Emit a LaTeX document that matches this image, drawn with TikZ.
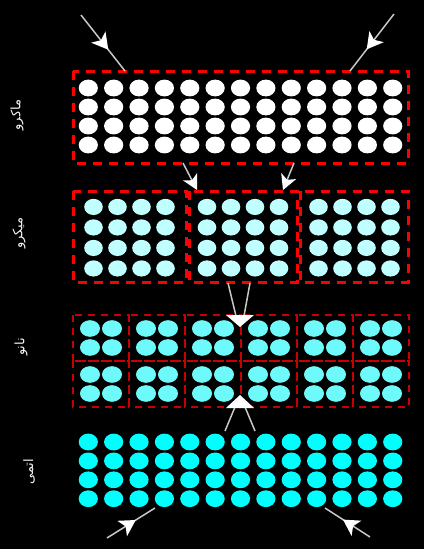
\documentclass[tikz,border=0pt]{standalone}
\usepackage{fontspec}
\newfontfamily\arabicfont[Script=Arabic]{DejaVu Sans}
\TeXXeTstate=1
\usetikzlibrary{arrows.meta,decorations.markings}
\definecolor{microc}{RGB}{192,255,255}
\definecolor{nanoc}{RGB}{110,250,250}
\definecolor{atomc}{RGB}{0,255,255}
\definecolor{nanored}{RGB}{200,0,0}
\definecolor{flowgray}{RGB}{200,200,200}
\begin{document}
\begin{tikzpicture}[x=1pt,y=-1pt,
  macbox/.style={draw=red, line width=3pt, dash pattern=on 9pt off 7pt},
  nanobox/.style={draw=nanored, line width=1.8pt, dash pattern=on 7pt off 6pt},
  flow/.style={draw=flowgray, line width=1.5pt},
  midarrow/.style={postaction={decorate}, decoration={markings, mark=at position #1 with {\arrow{Stealth[length=16pt,width=18pt,inset=4pt,color=white]}}}},
  endarrow/.style={-{Stealth[length=15pt,width=16pt,inset=4pt,color=white]}},
  headtri/.style={fill=white},
  lvl/.style={text=white!92!gray, rotate=90, font=\arabicfont\fontsize{13}{15}\selectfont}]
\useasboundingbox (0,0) rectangle (424,549);
\fill[black] (0,0) rectangle (424,549);

% ---------- labels ----------
\node[lvl] (lmacro) at (17,115) {\beginR ماکرو\endR};
\node[lvl] (lmicro) at (19,233) {\beginR میکرو\endR};
\node[lvl] (lnano)  at (21,347) {\beginR نانو\endR};
\node[lvl] (latom)  at (29,472) {\beginR اتمی\endR};

% ---------- macro ----------
\foreach \i in {0,...,12}
  \foreach \j in {0,...,3}
    \fill[white] (88.3+25.37*\i, 88+19*\j) ellipse (9.6 and 8.4);
\draw[macbox] (73,71) rectangle (408,163);

% ---------- micro ----------
\foreach \c in {129.5,243,354.5}
  \foreach \i in {-36,-12,12,36}
    \foreach \j in {-30.75,-10.25,10.25,30.75}
      \fill[microc] (\c+\i, 237.7+\j) ellipse (9.3 and 8.1);
\draw[macbox] (73,191) rectangle (186,282);
\draw[macbox] (189,191) rectangle (297,282);
\draw[macbox] (300,191) rectangle (408,282);

% ---------- nano ----------
\foreach \k in {0,...,5}
  \foreach \r in {0,1}{
    \pgfmathsetmacro{\xl}{73+56*\k}
    \pgfmathsetmacro{\yt}{315+46*\r}
    \foreach \i in {-11,11}
      \foreach \j in {-9.5,9.5}
        \fill[nanoc] (\xl+28+\i, \yt+23+\j) ellipse (10 and 8.3);
    \draw[nanobox] (\xl,\yt) rectangle ++(56,46);
  }

% ---------- atomic ----------
\foreach \i in {0,...,12}
  \foreach \j in {0,...,3}
    \fill[atomc] (88.3+25.37*\i, 442+18.9*\j) ellipse (9.6 and 8.4);

% ---------- connectors ----------
\coordinate (tla) at (81,15);   \coordinate (tlb) at (125,71);
\coordinate (tra) at (394,14);  \coordinate (trb) at (350,71);
\coordinate (bla) at (107,538); \coordinate (blb) at (155,508);
\coordinate (bra) at (370,537); \coordinate (brb) at (325,508);
\draw[flow, midarrow=0.62] (tla) -- (tlb);
\draw[flow, midarrow=0.62] (tra) -- (trb);
\draw[flow, midarrow=0.6] (bla) -- (blb);
\draw[flow, midarrow=0.6] (bra) -- (brb);

\coordinate (m1a) at (183,163); \coordinate (m1b) at (197,190);
\coordinate (m2a) at (294,163); \coordinate (m2b) at (283,190);
\draw[flow, endarrow] (m1a) -- (m1b);
\draw[flow, endarrow] (m2a) -- (m2b);

\coordinate (n1a) at (228,283); \coordinate (n1b) at (236,316);
\coordinate (n2a) at (250,283); \coordinate (n2b) at (244,316);
\draw[flow] (n1a) -- (n1b);
\draw[flow] (n2a) -- (n2b);
\coordinate (ta1) at (226,315); \coordinate (ta2) at (254,315); \coordinate (ta3) at (240,327);
\fill[headtri] (ta1) -- (ta2) -- (ta3) -- cycle;

\coordinate (a1a) at (225,431); \coordinate (a1b) at (235,407);
\coordinate (a2a) at (255,431); \coordinate (a2b) at (245,407);
\draw[flow] (a1a) -- (a1b);
\draw[flow] (a2a) -- (a2b);
\coordinate (tb1) at (226,408); \coordinate (tb2) at (254,408); \coordinate (tb3) at (240,395);
\fill[headtri] (tb1) -- (tb2) -- (tb3) -- cycle;
\end{tikzpicture}
\end{document}
